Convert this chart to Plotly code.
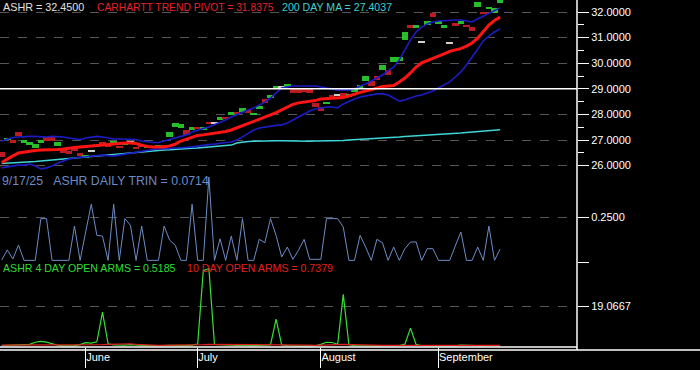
import plotly.graph_objects as go
from plotly.subplots import make_subplots

# ---------------- data (trading-day index 0 = 9 May 2025 ... 89 = 17 Sep 2025) -------------
months = ["June", "July", "August", "September"]
month_start_idx = [15, 35, 57, 78]

open_ = [26.53, 27.00, 27.00, 27.31, 26.88, 26.80, 26.69, 26.88, 27.12, 27.10,
         26.77, 26.65, 26.57, 26.69, 26.49, 26.30, 26.57, 26.73, 26.92, 26.80,
         26.84, 26.77, 26.80, 26.92, 26.73, 26.80, 26.69, 26.77, 26.69, 26.80,
         27.12, 27.51, 27.47, 27.39, 27.39, 27.51, 27.39, 27.70, 27.66, 27.78,
         27.90, 27.98, 28.09, 28.09, 28.17, 27.98, 28.21, 28.60, 28.64, 29.03,
         29.07, 29.07, 29.03, 29.03, 29.03, 28.99, 28.45, 28.29, 28.41, 28.76,
         28.76, 28.84, 28.68, 28.88, 29.03, 29.30, 29.30, 29.50, 29.73, 29.73,
         30.05, 30.07, 30.91, 31.49, 31.38, 30.83, 31.49, 31.96, 31.53, 31.38,
         30.79, 31.57, 31.53, 31.49, 31.41, 32.20, 32.00, 32.12, 31.96, 32.36]
close_ = [26.34, 27.08, 26.88, 27.16, 27.00, 26.92, 26.84, 27.00, 26.96, 26.97,
          26.92, 26.49, 26.45, 26.57, 26.38, 26.41, 26.57, 26.80, 26.80, 26.73,
          26.96, 26.69, 26.88, 26.92, 26.65, 26.73, 26.77, 26.69, 26.80, 26.73,
          27.31, 27.66, 27.63, 27.20, 27.51, 27.43, 27.51, 27.63, 27.66, 27.90,
          27.82, 28.09, 28.02, 28.25, 28.05, 28.05, 28.33, 28.45, 28.76, 29.11,
          29.07, 29.19, 28.84, 28.84, 28.88, 28.84, 28.29, 28.13, 28.48, 28.64,
          28.76, 28.68, 28.80, 28.99, 29.15, 29.50, 29.11, 29.34, 29.93, 29.54,
          30.24, 30.24, 31.22, 31.38, 31.49, 30.83, 31.65, 31.80, 31.65, 31.49,
          30.79, 31.45, 31.65, 31.41, 31.26, 32.39, 31.92, 32.20, 32.16, 32.45]

pivot = [26.12, 26.26, 26.38, 26.49, 26.53, 26.57, 26.59, 26.61, 26.61, 26.61,
         26.63, 26.65, 26.69, 26.71, 26.73, 26.75, 26.77, 26.80, 26.82, 26.84,
         26.84, 26.86, 26.88, 26.88, 26.86, 26.80, 26.75, 26.73, 26.73, 26.73,
         26.77, 26.84, 26.96, 27.04, 27.12, 27.18, 27.20, 27.23, 27.27, 27.29,
         27.33, 27.39, 27.47, 27.57, 27.66, 27.74, 27.82, 27.90, 27.98, 28.07,
         28.17, 28.29, 28.39, 28.45, 28.48, 28.50, 28.54, 28.60, 28.62, 28.64,
         28.64, 28.66, 28.72, 28.80, 28.86, 28.91, 28.97, 29.03, 29.09, 29.11,
         29.13, 29.27, 29.42, 29.62, 29.85, 30.01, 30.11, 30.20, 30.28, 30.36,
         30.46, 30.52, 30.57, 30.67, 30.79, 30.98, 31.22, 31.49, 31.67, 31.80]

band_upper = [26.96, 27.04, 27.10, 27.12, 27.14, 27.14, 27.14, 27.12, 27.12, 27.14,
              27.14, 27.12, 27.08, 27.04, 27.02, 27.08, 27.12, 27.14, 27.12, 27.08,
              27.04, 27.04, 27.04, 27.04, 27.02, 26.96, 26.92, 26.90, 26.90, 26.96,
              27.02, 27.06, 27.12, 27.20, 27.31, 27.39, 27.45, 27.51, 27.59, 27.70,
              27.78, 27.90, 28.00, 28.09, 28.17, 28.25, 28.37, 28.48, 28.64, 28.84,
              29.03, 29.07, 29.11, 29.11, 29.11, 29.11, 29.11, 29.07, 29.03, 28.99,
              28.95, 28.95, 28.95, 28.99, 29.11, 29.19, 29.30, 29.42, 29.54, 29.70,
              29.85, 30.13, 30.52, 30.91, 31.22, 31.41, 31.53, 31.61, 31.65, 31.67,
              31.69, 31.69, 31.69, 31.65, 31.61, 31.73, 31.84, 31.96, 32.08, 32.16]

band_lower = [25.91, 25.95, 25.98, 26.02, 26.02, 26.06, 25.98, 25.87, 25.91, 25.98,
              26.10, 26.18, 26.26, 26.30, 26.32, 26.34, 26.38, 26.39, 26.41, 26.39,
              26.38, 26.41, 26.45, 26.49, 26.53, 26.57, 26.61, 26.63, 26.65, 26.65,
              26.67, 26.69, 26.69, 26.71, 26.73, 26.77, 26.80, 26.82, 26.84, 26.88,
              26.90, 26.92, 27.00, 27.12, 27.27, 27.39, 27.47, 27.51, 27.55, 27.57,
              27.59, 27.66, 27.78, 27.90, 28.02, 28.13, 28.21, 28.25, 28.29, 28.29,
              28.25, 28.41, 28.52, 28.60, 28.68, 28.72, 28.76, 28.80, 28.80, 28.76,
              28.64, 28.52, 28.56, 28.64, 28.72, 28.76, 28.84, 28.91, 29.03, 29.15,
              29.27, 29.46, 29.66, 29.93, 30.24, 30.59, 30.87, 31.06, 31.22, 31.34]

ma200 = [26.08, 26.09, 26.10, 26.11, 26.12, 26.14, 26.16, 26.18, 26.20, 26.22,
         26.24, 26.27, 26.29, 26.31, 26.33, 26.35, 26.37, 26.40, 26.42, 26.44,
         26.46, 26.48, 26.49, 26.50, 26.52, 26.54, 26.56, 26.58, 26.60, 26.61,
         26.62, 26.64, 26.65, 26.67, 26.68, 26.69, 26.71, 26.73, 26.75, 26.76,
         26.78, 26.80, 26.88, 26.92, 26.94, 26.95, 26.96, 26.96, 26.96, 26.97,
         26.97, 26.96, 26.96, 26.95, 26.95, 26.95, 26.96, 26.96, 26.96, 26.96,
         26.97, 26.98, 27.00, 27.01, 27.03, 27.04, 27.05, 27.07, 27.08, 27.10,
         27.11, 27.12, 27.14, 27.15, 27.16, 27.17, 27.18, 27.19, 27.21, 27.22,
         27.23, 27.25, 27.27, 27.29, 27.31, 27.33, 27.35, 27.37, 27.39, 27.40]

trin = [0.011, 0.067, 0.017, 0.094, 0.009, 0.009, 0.009, 0.241, 0.241, 0.009,
        0.009, 0.009, 0.009, 0.200, 0.009, 0.167, 0.321, 0.148, 0.144, 0.009,
        0.321, 0.009, 0.241, 0.204, 0.009, 0.200, 0.009, 0.009, 0.009, 0.200,
        0.121, 0.093, 0.009, 0.009, 0.321, 0.009, 0.009, 0.472, 0.009, 0.129,
        0.009, 0.144, 0.009, 0.241, 0.009, 0.009, 0.126, 0.107, 0.241, 0.148,
        0.028, 0.083, 0.015, 0.065, 0.126, 0.015, 0.015, 0.015, 0.241, 0.241,
        0.241, 0.194, 0.009, 0.009, 0.148, 0.083, 0.009, 0.126, 0.107, 0.009,
        0.083, 0.009, 0.074, 0.111, 0.111, 0.009, 0.074, 0.074, 0.009, 0.009,
        0.009, 0.089, 0.167, 0.009, 0.009, 0.083, 0.009, 0.200, 0.009, 0.0714]

arms4 = [0.6, 0.7, 0.6, 0.7, 0.8, 1.2, 2.2, 2.6, 2.3, 1.4,
         0.8, 0.5, 0.4, 0.6, 1.1, 2.0, 1.8, 2.4, 16.2, 1.5,
         1.0, 0.8, 0.9, 1.1, 0.8, 0.7, 0.6, 0.5, 0.5, 0.6,
         0.8, 0.7, 0.6, 0.6, 0.9, 1.4, 35.5, 36.5, 1.2, 1.0,
         0.8, 0.9, 0.7, 0.8, 0.6, 0.6, 0.7, 0.8, 1.0, 13.0,
         0.9, 0.7, 0.5, 0.5, 0.4, 0.5, 0.6, 1.2, 2.2, 2.1,
         1.3, 24.5, 1.0, 0.6, 0.5, 0.5, 0.4, 0.5, 0.6, 0.5,
         0.6, 0.7, 1.3, 8.8, 1.2, 0.6, 0.5, 0.5, 0.4, 0.5,
         0.6, 0.5, 0.9, 0.8, 0.6, 0.5, 0.5, 0.7, 0.6, 0.5185]

arms10 = [0.9, 0.9, 0.9, 0.8, 0.8, 0.8, 0.9, 1.0, 1.0, 1.0,
          0.9, 0.9, 0.8, 0.8, 0.8, 0.9, 0.9, 1.0, 1.1, 1.2,
          1.3, 1.6, 1.6, 1.5, 1.2, 1.0, 0.9, 0.9, 0.8, 0.8,
          0.8, 0.8, 0.8, 0.9, 0.9, 1.0, 1.1, 1.2, 1.2, 1.2,
          1.1, 1.1, 1.0, 1.0, 0.9, 0.9, 0.9, 0.9, 1.0, 1.1,
          1.1, 1.1, 1.0, 0.9, 0.9, 0.9, 0.8, 0.8, 0.9, 1.0,
          1.1, 1.2, 1.1, 1.0, 0.9, 0.8, 0.8, 0.8, 0.8, 0.8,
          0.8, 0.8, 0.9, 1.0, 1.0, 1.0, 0.9, 0.9, 0.8, 0.8,
          0.8, 0.8, 0.8, 0.8, 0.8, 0.8, 0.8, 0.8, 0.7, 0.7379]

price_ticks = [26, 27, 28, 29, 30, 31, 32]
trin_ticks = [0.0, 0.25]
arms_ticks = [19.0667]
ref_level = 29.0

# ---------------- geometry ----------------
W, H = 700, 370
PW, PH = 577, 350          # plot area (left=0, top=0)
DX = 5.6                   # px per trading day


def fy(p):                 # px from top -> paper y
    return (PH - p) / PH


def fx(p):                 # px from left -> paper x
    return p / PW


n = len(close_)
x = list(range(n))

fig = make_subplots(rows=3, cols=1, shared_xaxes=True, vertical_spacing=0)

# price panel
fig.add_trace(go.Scatter(x=x, y=ma200, mode="lines", line=dict(color="#3fd6d6", width=1.5)), row=1, col=1)
fig.add_trace(go.Scatter(x=x, y=band_upper, mode="lines", line=dict(color="#1c1cc8", width=1.6)), row=1, col=1)
fig.add_trace(go.Scatter(x=x, y=band_lower, mode="lines", line=dict(color="#1c1cc8", width=1.6)), row=1, col=1)
fig.add_trace(go.Scatter(x=x, y=pivot, mode="lines", line=dict(color="#ff1414", width=3)), row=1, col=1)

colors, base, body = [], [], []
for o, c in zip(open_, close_):
    if c > o:
        colors.append("#2fd22f")
    elif c < o:
        colors.append("#d21f26")
    else:
        colors.append("#e6e6e6")
    h = max(abs(c - o), 0.035)
    base.append(min(o, c) - (0.0175 if c == o else 0))
    body.append(h)
fig.add_trace(go.Bar(x=x, y=body, base=base, width=1.2,
                     marker=dict(color=colors, line=dict(width=0)), opacity=0.9), row=1, col=1)

# TRIN panel
fig.add_trace(go.Scatter(x=x, y=trin, mode="lines", line=dict(color="#6d8cc6", width=1)), row=2, col=1)

# open arms panel
fig.add_trace(go.Scatter(x=x, y=arms4, mode="lines", line=dict(color="#33e033", width=1.2)), row=3, col=1)
fig.add_trace(go.Scatter(x=x, y=arms10, mode="lines", line=dict(color="#e02020", width=1.2)), row=3, col=1)

font = "Arial, Liberation Sans"

x0 = -0.3
xr = [x0, x0 + PW / DX]
fig.update_xaxes(range=xr, showgrid=False, zeroline=False, showticklabels=False, ticks="",
                 showline=False)
fig.update_xaxes(row=3, col=1, ticks="outside", ticklen=20, tickcolor="white", tickwidth=1,
                 tickmode="array", tickvals=month_start_idx, ticktext=months,
                 showticklabels=True, ticklabelposition="outside right",
                 tickfont=dict(color="white", size=11, family=font))

yax_common = dict(side="right", showline=False, zeroline=False, ticks="outside", ticklen=11,
                  tickcolor="white", tickwidth=1, showgrid=True, griddash="dash",
                  gridcolor="#555555", gridwidth=1,
                  tickfont=dict(color="white", size=11, family=font))

price_lo = 32 - (PH / 2 - 12) / 25.6
price_hi = 32 + 12 / 25.6
fig.update_yaxes(row=1, col=1, range=[price_lo, price_hi], tickmode="array",
                 tickvals=price_ticks, ticktext=[f"{v:.4f}" for v in price_ticks],
                 minor=dict(tickvals=[v + 0.5 for v in price_ticks[:-1]], ticks="outside",
                            ticklen=6, tickcolor="white", showgrid=False),
                 **yax_common)
fig.update_yaxes(row=2, col=1, range=[(262 - 263) / 180, (262 - 175) / 180], tickmode="array",
                 tickvals=trin_ticks, ticktext=["" if v == 0 else f"{v:.4f}" for v in trin_ticks],
                 **yax_common)
fig.update_yaxes(row=3, col=1, range=[0, 84 * 0.465], tickmode="array",
                 tickvals=arms_ticks, ticktext=[f"{v:.4f}" for v in arms_ticks], **yax_common)

fig.update_layout(
    yaxis=dict(domain=[fy(175), 1]),
    yaxis2=dict(domain=[fy(263), fy(175)]),
    yaxis3=dict(domain=[fy(347), fy(263)]),
)

# reference level and frame
fig.add_hline(y=ref_level, row=1, col=1, line=dict(color="white", width=1.5))
fig.add_shape(type="line", xref="paper", yref="paper", x0=1, x1=1, y0=0, y1=1,
              line=dict(color="white", width=1.5))
fig.add_shape(type="line", xref="paper", yref="paper", x0=0, x1=1, y0=fy(347), y1=fy(347),
              line=dict(color="white", width=1.5))
fig.add_shape(type="line", xref="paper", yref="paper", x0=0, x1=W / PW, y0=0, y1=0,
              line=dict(color="white", width=1.5))


def label(text, px_x, px_y, color, size=10.3):
    fig.add_annotation(text=text, xref="paper", yref="paper", x=fx(px_x), y=fy(px_y),
                       xanchor="left", yanchor="middle", showarrow=False,
                       font=dict(color=color, size=size, family=font))


NB = "\u00a0"
label(f"ASHR = {close_[-1]:.4f}", 1, 7, "#e0e0e0", 10.8)
label("CARHARTT TREND PIVOT = 31.8375", 95, 7, "#e8202a")
label("200 DAY MA = 27.4037", 280, 7, "#3fd0d0", 10.6)
label(f"9/17/25{NB}{NB}{NB}ASHR DAILY TRIN = {trin[-1]:.4f}", 0, 181, "#6d8cc6", 12.3)
label(f"ASHR 4 DAY OPEN ARMS = {arms4[-1]:.4f}", 1, 268, "#33dd33", 10.6)
label(f"10 DAY OPEN ARMS = {arms10[-1]:.4f}", 185, 268, "#e02020", 10.6)

fig.update_layout(width=W, height=H, margin=dict(l=0, r=W - PW, t=0, b=H - PH),
                  paper_bgcolor="black", plot_bgcolor="black", showlegend=False,
                  barmode="overlay", bargap=0)

fig.write_html("out.html", config={"displayModeBar": False},
               post_script="document.body.style.margin='0';document.body.style.background='black';")
